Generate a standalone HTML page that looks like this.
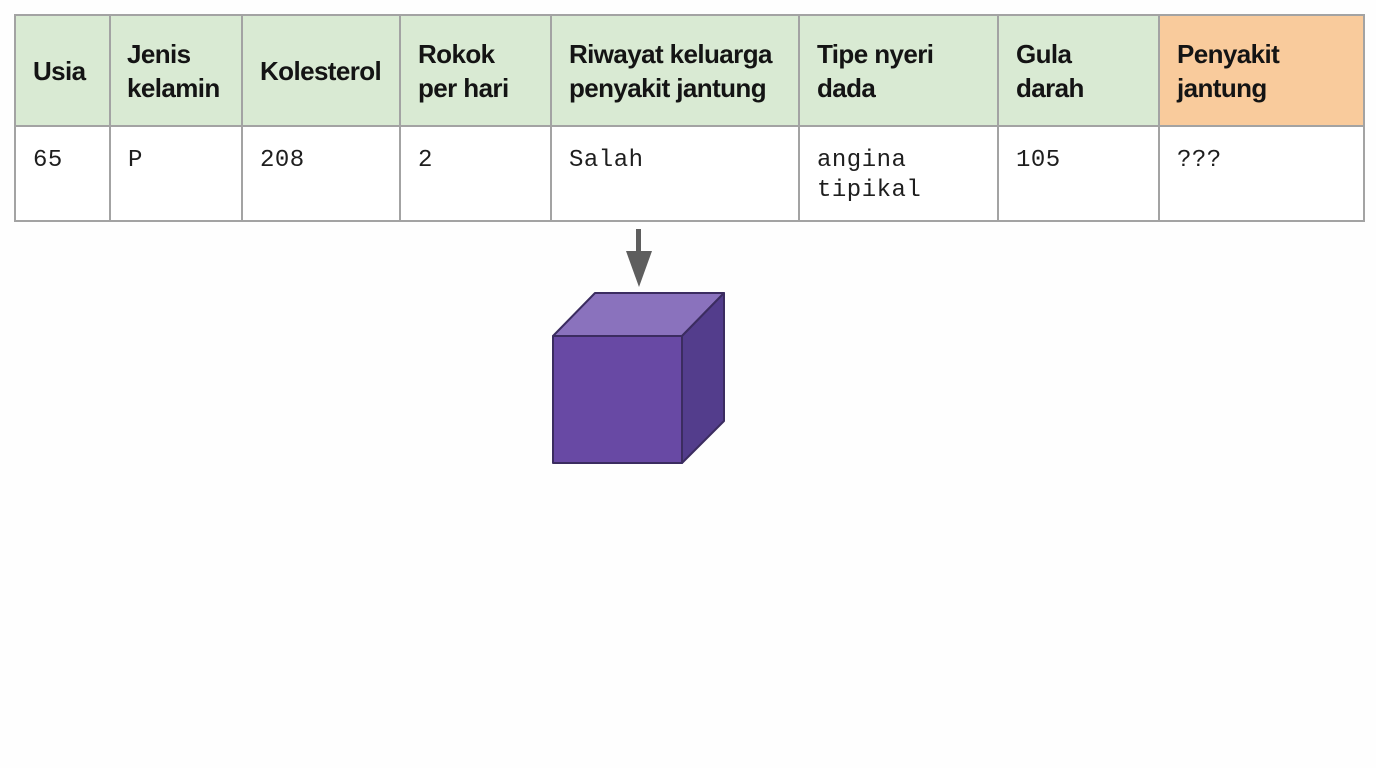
<!DOCTYPE html>
<html>
<head>
<meta charset="utf-8">
<style>
  html,body{margin:0;padding:0;}
  body{width:1376px;height:768px;background:#fefefe;position:relative;overflow:hidden;}
  .h{position:absolute;top:15px;height:111px;box-sizing:border-box;padding-left:18px;display:flex;align-items:center;
     font-family:"Liberation Sans",sans-serif;font-weight:bold;font-size:26px;letter-spacing:-0.6px;line-height:34px;color:#141414;background:#d9ead3;}
  .o{background:#f9cb9c;}
  .b{position:absolute;top:126px;height:95px;box-sizing:border-box;padding-left:18px;padding-top:20px;
     font-family:"Liberation Mono",monospace;font-size:24px;letter-spacing:0.5px;line-height:30px;color:#1e1e1e;background:#fff;}
</style>
</head>
<body>
<div class="h" style="left:15px;width:95px;">Usia</div>
<div class="h" style="left:110px;width:132px;padding-left:17px;">Jenis<br>kelamin</div>
<div class="h" style="left:242px;width:158px;">Kolesterol</div>
<div class="h" style="left:400px;width:151px;">Rokok<br>per hari</div>
<div class="h" style="left:551px;width:248px;">Riwayat keluarga<br>penyakit jantung</div>
<div class="h" style="left:799px;width:199px;">Tipe nyeri<br>dada</div>
<div class="h" style="left:998px;width:161px;">Gula<br>darah</div>
<div class="h o" style="left:1159px;width:205px;">Penyakit<br>jantung</div>

<div class="b" style="left:15px;width:95px;">65</div>
<div class="b" style="left:110px;width:132px;">P</div>
<div class="b" style="left:242px;width:158px;">208</div>
<div class="b" style="left:400px;width:151px;">2</div>
<div class="b" style="left:551px;width:248px;">Salah</div>
<div class="b" style="left:799px;width:199px;">angina<br>tipikal</div>
<div class="b" style="left:998px;width:161px;">105</div>
<div class="b" style="left:1159px;width:205px;">???</div>

<svg width="1376" height="768" style="position:absolute;left:0;top:0;" xmlns="http://www.w3.org/2000/svg">
  <g stroke="#a3a3a3" stroke-width="2" fill="none">
    <rect x="15" y="15" width="1349" height="206"/>
    <line x1="15" y1="126" x2="1364" y2="126"/>
    <line x1="110" y1="15" x2="110" y2="221"/>
    <line x1="242" y1="15" x2="242" y2="221"/>
    <line x1="400" y1="15" x2="400" y2="221"/>
    <line x1="551" y1="15" x2="551" y2="221"/>
    <line x1="799" y1="15" x2="799" y2="221"/>
    <line x1="998" y1="15" x2="998" y2="221"/>
    <line x1="1159" y1="15" x2="1159" y2="221"/>
  </g>
  <!-- arrow -->
  <rect x="636" y="229" width="5" height="24" fill="#5e5e5e"/>
  <polygon points="626,251 652,251 639,287" fill="#5e5e5e"/>
  <!-- cube -->
  <g stroke="#3b2c60" stroke-width="2" stroke-linejoin="round">
    <polygon points="553,336 595,293 724,293 682,336" fill="#8a72bd"/>
    <polygon points="682,336 724,293 724,421 682,463" fill="#533d8c"/>
    <rect x="553" y="336" width="129" height="127" fill="#6849a4"/>
  </g>
</svg>
</body>
</html>
